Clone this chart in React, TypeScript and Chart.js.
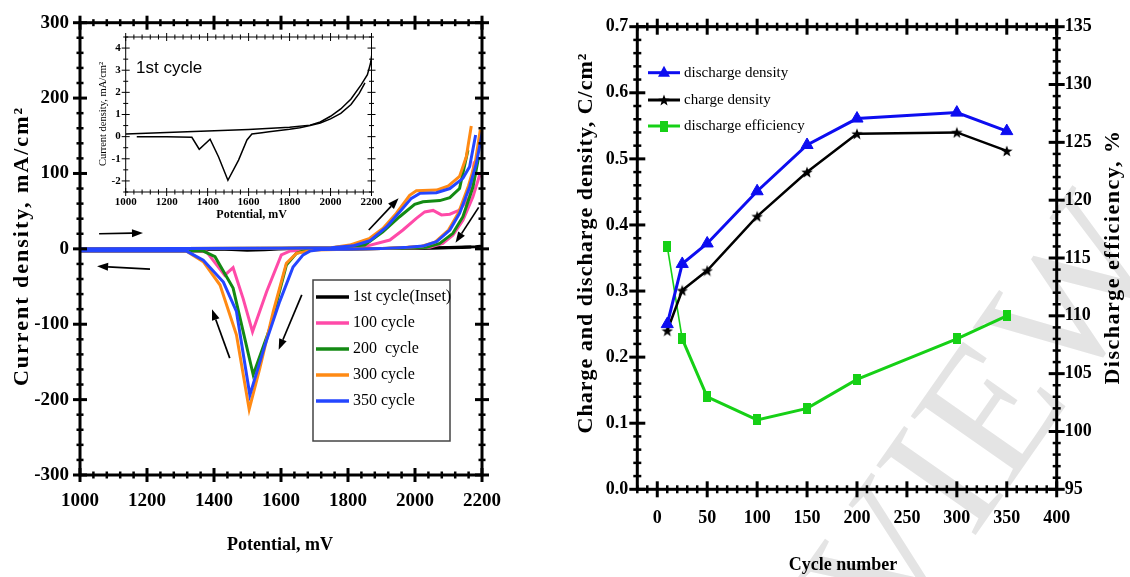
import { useEffect, useRef } from "react";
import { Chart, registerables } from "chart.js";

Chart.register(...registerables);

const SERIF = "'Liberation Serif', 'Times New Roman', Times, serif";
const SANS = "'Liberation Sans', Arial, Helvetica, sans-serif";

// ================= Left panel: cyclic voltammograms =================
const potentialTicks = [1000, 1200, 1400, 1600, 1800, 2000, 2200];
const currentTicks = [-300, -200, -100, 0, 100, 200, 300];
const cvLabels = ["1st cycle(Inset)", "100 cycle", "200  cycle", "300 cycle", "350 cycle"];
const cvColors = ["#000000", "#ff4aa8", "#138a13", "#ff8a14", "#2446ff"];

// 1st cycle (also plotted in the inset), mA/cm2
const cycle1FwdPotential = [1000, 1200, 1400, 1600, 1800, 1900, 1950, 2000, 2050, 2100, 2150, 2180, 2195, 2203];
const cycle1FwdCurrent = [0.12, 0.19, 0.25, 0.32, 0.42, 0.52, 0.66, 0.92, 1.25, 1.7, 2.35, 2.8, 3.3, 3.8];
const cycle1RevPotential = [2168, 2140, 2100, 2050, 2000, 1950, 1900, 1850, 1800, 1700, 1665, 1616, 1592, 1551, 1499, 1453, 1412, 1359, 1323, 1200, 1054];
const cycle1RevCurrent = [2.43, 1.95, 1.45, 1.05, 0.8, 0.62, 0.5, 0.4, 0.33, 0.22, 0.18, 0.12, -0.15, -1.06, -1.97, -0.91, -0.12, -0.57, -0.03, 0, 0];

// 100 cycle
const cycle100FwdPotential = [1000, 1300, 1600, 1750, 1850, 1925, 1964, 2004, 2029, 2054, 2079, 2104, 2133, 2163, 2177];
const cycle100FwdCurrent = [0, 0.3, 0.8, 1.5, 3, 11.7, 25, 40.5, 49, 51, 45, 46, 51.5, 69, 116];
const cycle100RevPotential = [2193, 2173, 2143, 2113, 2083, 2044, 2000, 1900, 1800, 1700, 1626, 1601, 1557, 1515, 1487, 1457, 1432, 1378, 1330, 1200, 1000];
const cycle100RevCurrent = [98, 69, 38, 18, 7.3, 2, 1, 0.3, -0.5, -1, -3, -8, -57, -110, -66, -25, -35, -4, -3, -3, -3];

// 200 cycle
const cycle200FwdPotential = [1000, 1300, 1600, 1750, 1850, 1904, 1954, 1999, 2024, 2074, 2104, 2133, 2158];
const cycle200FwdCurrent = [0, 0.3, 0.8, 1.5, 5, 22.7, 42.6, 59, 62.5, 64, 68, 80, 131];
const cycle200RevPotential = [2190, 2173, 2143, 2113, 2074, 2034, 1990, 1900, 1800, 1700, 1676, 1646, 1616, 1567, 1517, 1457, 1403, 1368, 1320, 1200, 1000];
const cycle200RevCurrent = [122, 82, 42.6, 20.6, 7.3, 2, 1, 0.3, -0.5, -1, -1.5, -6, -21.5, -105, -167, -52, -10.5, -3, -3, -3, -3];

// 300 cycle
const cycle300FwdPotential = [1000, 1300, 1600, 1750, 1805, 1865, 1904, 1944, 1984, 2004, 2064, 2098, 2133, 2153, 2168];
const cycle300FwdCurrent = [0, 0.3, 0.8, 1.5, 5, 14, 27, 47, 71, 77, 78, 83, 96, 122, 163];
const cycle300RevPotential = [2195, 2180, 2160, 2130, 2100, 2060, 2020, 1975, 1900, 1800, 1700, 1680, 1646, 1616, 1577, 1537, 1505, 1467, 1418, 1368, 1318, 1200, 1000];
const cycle300RevCurrent = [158, 115, 84, 48, 25, 9, 3.5, 2, 0.3, -0.5, -1.5, -3, -6, -19, -83, -158, -213, -114, -48, -17, -3, -3, -3];

// 350 cycle
const cycle350FwdPotential = [1000, 1300, 1600, 1750, 1815, 1865, 1915, 1954, 1989, 2014, 2064, 2104, 2143, 2163, 2181];
const cycle350FwdCurrent = [0, 0.3, 0.8, 1.5, 4, 10.7, 29, 49, 67, 73.6, 74.5, 80, 93.5, 109, 151];
const cycle350RevPotential = [2201, 2183, 2163, 2133, 2104, 2064, 2024, 1980, 1900, 1800, 1720, 1686, 1666, 1636, 1596, 1552, 1507, 1467, 1428, 1368, 1318, 1200, 1000];
const cycle350RevCurrent = [155, 113, 82, 47, 25, 9.4, 3.7, 2, 0.3, -0.5, -1, -3, -8, -24, -70, -128, -194, -83, -44, -15, -3, -3, -3];

// scan-direction arrows (data coordinates)
const arrowFromPotential = [1057, 1209, 1862, 2190, 1662, 1447];
const arrowFromCurrent = [20, -27, 25, 55, -61, -145];
const arrowToPotential = [1188, 1051, 1951, 2121, 1593, 1394];
const arrowToCurrent = [21, -23, 67, 8, -134, -80];

// inset
const insetCurrentTicks = [-2, -1, 0, 1, 2, 3, 4];

// ================= Right panel: charge / discharge =================
const cycleNumbers = [10, 25, 50, 100, 150, 200, 300, 350];
const dischargeDensity = [0.25, 0.341, 0.372, 0.451, 0.521, 0.561, 0.57, 0.542];
const chargeDensity = [0.24, 0.301, 0.331, 0.413, 0.48, 0.538, 0.54, 0.512];
const dischargeEfficiency = [116.0, 108.0, 103.0, 101.0, 102.0, 104.5, 108.0, 110.0];
const cycleTicks = [0, 50, 100, 150, 200, 250, 300, 350, 400];
const densityTicks = [0, 0.1, 0.2, 0.3, 0.4, 0.5, 0.6, 0.7];
const efficiencyTicks = [95, 100, 105, 110, 115, 120, 125, 130, 135];
const rightLegendLabels = ["discharge density", "charge density", "discharge efficiency"];
const rightColors = ["#0d0df0", "#000000", "#16d016"];

// ================= helpers =================
const pts = (xs: number[], ys: number[]) => xs.map((x, i) => ({ x, y: ys[i] }));

function lineDs(xs: number[], ys: number[], color: string, width = 3) {
  return {
    data: pts(xs, ys),
    showLine: true,
    borderColor: color,
    backgroundColor: color,
    borderWidth: width,
    pointRadius: 0,
    pointHoverRadius: 0,
    tension: 0,
    fill: false,
  };
}

function tickCfg(size: number, padding: number, fmt: (v: number) => string) {
  return {
    autoSkip: false,
    maxRotation: 0,
    minRotation: 0,
    padding,
    color: "#000",
    font: { family: SERIF, size, weight: "bold" as const },
    callback: (v: any) => fmt(Number(v)),
  };
}

function axis(opts: {
  pos: string; min: number; max: number; ticks: number[]; size: number; pad: number;
  fmt?: (v: number) => string; fit: number; horizontal: boolean;
}) {
  return {
    type: "linear" as const,
    position: opts.pos,
    min: opts.min,
    max: opts.max,
    grid: { display: false, drawTicks: false },
    border: { display: false },
    ticks: tickCfg(opts.size, opts.pad, opts.fmt || ((v) => String(v))),
    afterBuildTicks: (s: any) => {
      s.ticks = opts.ticks.map((v) => ({ value: v }));
    },
    afterFit: (s: any) => {
      if (opts.horizontal) s.height = opts.fit;
      else s.width = opts.fit;
    },
  };
}

type Side = { scale: string; edge: "bottom" | "top" | "left" | "right"; minor: number; major: number };

function makeFrame(sides: Side[], border: number, majorLen: number, minorLen: number, majorW: number, minorW: number) {
  return {
    id: "frame",
    afterDatasetsDraw(chart: any) {
      const { ctx, chartArea: a } = chart;
      ctx.save();
      ctx.strokeStyle = "#000";
      ctx.lineCap = "butt";
      for (const s of sides) {
        const sc = chart.scales[s.scale];
        const n = Math.round((sc.max - sc.min) / s.minor);
        for (let i = 0; i <= n; i++) {
          const v = sc.min + i * s.minor;
          const r = v / s.major;
          const isMajor = Math.abs(r - Math.round(r)) < 1e-6;
          const L = isMajor ? majorLen : minorLen;
          ctx.lineWidth = isMajor ? majorW : minorW;
          const p = sc.getPixelForValue(v);
          ctx.beginPath();
          if (s.edge === "bottom" || s.edge === "top") {
            const y0 = s.edge === "bottom" ? a.bottom : a.top;
            ctx.moveTo(p, y0 - L);
            ctx.lineTo(p, y0 + L);
          } else {
            const x0 = s.edge === "left" ? a.left : a.right;
            ctx.moveTo(x0 - L, p);
            ctx.lineTo(x0 + L, p);
          }
          ctx.stroke();
        }
      }
      ctx.lineWidth = border;
      ctx.strokeRect(a.left, a.top, a.right - a.left, a.bottom - a.top);
      ctx.restore();
    },
  };
}

type TextItem = { text: string; x: number; y: number; font: string; rot?: number; align?: CanvasTextAlign; spacing?: string };

function makeTexts(items: TextItem[]) {
  return {
    id: "texts",
    afterDraw(chart: any) {
      const ctx = chart.ctx as CanvasRenderingContext2D;
      for (const t of items) {
        ctx.save();
        ctx.translate(t.x, t.y);
        if (t.rot) ctx.rotate(t.rot);
        ctx.font = t.font;
        (ctx as any).letterSpacing = t.spacing || "0px";
        ctx.fillStyle = "#000";
        ctx.textAlign = t.align || "center";
        ctx.textBaseline = "middle";
        ctx.fillText(t.text, 0, 0);
        ctx.restore();
      }
    },
  };
}

const arrowPlugin = {
  id: "arrows",
  afterDatasetsDraw(chart: any) {
    const { ctx, scales } = chart;
    const sx = scales.x, sy = scales.y;
    ctx.save();
    ctx.strokeStyle = "#000";
    ctx.fillStyle = "#000";
    ctx.lineWidth = 1.7;
    for (let i = 0; i < arrowFromPotential.length; i++) {
      const x1 = sx.getPixelForValue(arrowFromPotential[i]);
      const y1 = sy.getPixelForValue(arrowFromCurrent[i]);
      const x2 = sx.getPixelForValue(arrowToPotential[i]);
      const y2 = sy.getPixelForValue(arrowToCurrent[i]);
      const ang = Math.atan2(y2 - y1, x2 - x1);
      const hl = 11, hw = 4;
      const bx = x2 - hl * Math.cos(ang), by = y2 - hl * Math.sin(ang);
      ctx.beginPath();
      ctx.moveTo(x1, y1);
      ctx.lineTo(bx, by);
      ctx.stroke();
      ctx.beginPath();
      ctx.moveTo(x2, y2);
      ctx.lineTo(bx + hw * Math.sin(ang), by - hw * Math.cos(ang));
      ctx.lineTo(bx - hw * Math.sin(ang), by + hw * Math.cos(ang));
      ctx.closePath();
      ctx.fill();
    }
    ctx.restore();
  },
};

const cvLegendPlugin = {
  id: "cvLegend",
  afterDraw(chart: any) {
    const ctx = chart.ctx as CanvasRenderingContext2D;
    ctx.save();
    ctx.fillStyle = "#fff";
    ctx.fillRect(313, 280, 137, 161);
    ctx.strokeStyle = "#444";
    ctx.lineWidth = 1.5;
    ctx.strokeRect(313, 280, 137, 161);
    ctx.font = `16px ${SERIF}`;
    ctx.textBaseline = "middle";
    ctx.textAlign = "left";
    cvLabels.forEach((lab, i) => {
      const y = 297 + i * 26;
      ctx.strokeStyle = cvColors[i];
      ctx.lineWidth = 3.5;
      ctx.beginPath();
      ctx.moveTo(316, y);
      ctx.lineTo(349, y);
      ctx.stroke();
      ctx.fillStyle = "#000";
      ctx.fillText(lab, 353, y);
    });
    ctx.restore();
  },
};

function starImage(size: number, color: string) {
  const c = document.createElement("canvas");
  c.width = size;
  c.height = size;
  const g = c.getContext("2d")!;
  g.fillStyle = color;
  g.beginPath();
  for (let i = 0; i < 10; i++) {
    const r = i % 2 === 0 ? size / 2 : size / 4.8;
    const a = -Math.PI / 2 + (i * Math.PI) / 5;
    g.lineTo(size / 2 + r * Math.cos(a), size / 2 + 0.6 + r * Math.sin(a));
  }
  g.closePath();
  g.fill();
  return c;
}

function rectImage(w: number, h: number, color: string) {
  const c = document.createElement("canvas");
  c.width = w;
  c.height = h;
  const g = c.getContext("2d")!;
  g.fillStyle = color;
  g.fillRect(0, 0, w, h);
  return c;
}

function makeRightLegend(star: HTMLCanvasElement, rect: HTMLCanvasElement) {
  return {
    id: "rightLegend",
    afterDraw(chart: any) {
      const ctx = chart.ctx as CanvasRenderingContext2D;
      ctx.save();
      ctx.font = `15px ${SERIF}`;
      ctx.textBaseline = "middle";
      ctx.textAlign = "left";
      const rows = [72.7, 100, 126];
      rightLegendLabels.forEach((lab, i) => {
        const y = rows[i];
        ctx.strokeStyle = rightColors[i];
        ctx.lineWidth = 3;
        ctx.beginPath();
        ctx.moveTo(88, y);
        ctx.lineTo(120, y);
        ctx.stroke();
        const cx = 104;
        if (i === 0) {
          ctx.fillStyle = rightColors[0];
          ctx.beginPath();
          ctx.moveTo(cx, y - 7);
          ctx.lineTo(cx + 6, y + 4);
          ctx.lineTo(cx - 6, y + 4);
          ctx.closePath();
          ctx.fill();
        } else if (i === 1) {
          ctx.drawImage(star, cx - star.width / 2, y - star.height / 2);
        } else {
          ctx.drawImage(rect, cx - rect.width / 2, y - rect.height / 2);
        }
        ctx.fillStyle = "#000";
        ctx.fillText(lab, 124, y);
      });
      ctx.restore();
    },
  };
}

const watermarkPlugin = {
  id: "watermark",
  beforeDraw(chart: any) {
    const ctx = chart.ctx as CanvasRenderingContext2D;
    ctx.save();
    ctx.font = `185px ${SERIF}`;
    ctx.fillStyle = "#e4e4e4";
    ctx.translate(335, 650);
    ctx.rotate((-55 * Math.PI) / 180);
    ctx.textAlign = "left";
    ctx.textBaseline = "alphabetic";
    const pre = ctx.measureText("PRE").width;
    ctx.fillText("PREVIEW", -pre, 0);
    ctx.restore();
  },
};

const common = {
  responsive: false,
  animation: false as const,
  devicePixelRatio: 1,
  events: [] as any[],
  plugins: { legend: { display: false }, tooltip: { enabled: false } },
};

export default function App() {
  const leftRef = useRef<HTMLCanvasElement>(null);
  const insetRef = useRef<HTMLCanvasElement>(null);
  const rightRef = useRef<HTMLCanvasElement>(null);

  useEffect(() => {
    const charts: Chart[] = [];

    // ---------- left main chart ----------
    charts.push(
      new Chart(leftRef.current!, {
        type: "scatter",
        data: {
          datasets: [
            lineDs(cycle350FwdPotential, cycle350FwdCurrent, cvColors[4]),
            lineDs(cycle350RevPotential, cycle350RevCurrent, cvColors[4]),
            lineDs(cycle300FwdPotential, cycle300FwdCurrent, cvColors[3]),
            lineDs(cycle300RevPotential, cycle300RevCurrent, cvColors[3]),
            lineDs(cycle200FwdPotential, cycle200FwdCurrent, cvColors[2]),
            lineDs(cycle200RevPotential, cycle200RevCurrent, cvColors[2]),
            lineDs(cycle100FwdPotential, cycle100FwdCurrent, cvColors[1]),
            lineDs(cycle100RevPotential, cycle100RevCurrent, cvColors[1]),
            lineDs(cycle1FwdPotential, cycle1FwdCurrent, cvColors[0]),
            lineDs(cycle1RevPotential, cycle1RevCurrent, cvColors[0]),
          ] as any,
        },
        options: {
          ...common,
          layout: { padding: { top: 22.7, right: 58, left: 0, bottom: 0 } },
          scales: {
            x: axis({ pos: "bottom", min: 1000, max: 2200, ticks: potentialTicks, size: 19, pad: 15, fit: 102, horizontal: true }),
            y: axis({ pos: "left", min: -300, max: 300, ticks: currentTicks, size: 19, pad: 11, fit: 80, horizontal: false }),
          } as any,
        } as any,
        plugins: [
          makeFrame(
            [
              { scale: "x", edge: "bottom", minor: 40, major: 200 },
              { scale: "x", edge: "top", minor: 40, major: 200 },
              { scale: "y", edge: "left", minor: 20, major: 100 },
              { scale: "y", edge: "right", minor: 20, major: 100 },
            ],
            3, 7, 3.5, 3, 2.5
          ),
          arrowPlugin,
          cvLegendPlugin,
          makeTexts([
            { text: "Current density, mA/cm\u00B2", x: 22, y: 246, font: `bold 22px ${SERIF}`, rot: -Math.PI / 2, spacing: "2px" },
            { text: "Potential, mV", x: 280, y: 545, font: `bold 18px ${SERIF}` },
          ]),
        ],
      } as any)
    );

    // ---------- inset ----------
    charts.push(
      new Chart(insetRef.current!, {
        type: "scatter",
        data: {
          datasets: [
            lineDs(cycle1FwdPotential, cycle1FwdCurrent, "#000", 1.5),
            lineDs(cycle1RevPotential, cycle1RevCurrent, "#000", 1.5),
          ] as any,
        },
        options: {
          ...common,
          layout: { padding: { top: 12, right: 23.5, left: 0, bottom: 0 } },
          scales: {
            x: axis({ pos: "bottom", min: 1000, max: 2200, ticks: potentialTicks, size: 11, pad: 4, fit: 38, horizontal: true }),
            y: axis({ pos: "left", min: -2.5, max: 4.5, ticks: insetCurrentTicks, size: 11, pad: 5, fit: 40.7, horizontal: false }),
          } as any,
        } as any,
        plugins: [
          makeFrame(
            [
              { scale: "x", edge: "bottom", minor: 40, major: 200 },
              { scale: "x", edge: "top", minor: 40, major: 200 },
              { scale: "y", edge: "left", minor: 0.5, major: 1 },
              { scale: "y", edge: "right", minor: 0.5, major: 1 },
            ],
            1, 4, 2.5, 1, 1
          ),
          makeTexts([
            { text: "1st cycle", x: 51, y: 43, font: `17px ${SANS}`, align: "left" },
            { text: "Current density, mA/cm\u00B2", x: 18, y: 89, font: `10.5px ${SERIF}`, rot: -Math.PI / 2 },
            { text: "Potential, mV", x: 166.7, y: 190, font: `bold 12px ${SERIF}` },
          ]),
        ],
      } as any)
    );

    // ---------- right chart ----------
    const star = starImage(12, rightColors[1]);
    const rect = rectImage(8, 11, rightColors[2]);
    charts.push(
      new Chart(rightRef.current!, {
        type: "scatter",
        data: {
          datasets: [
            {
              data: pts(cycleNumbers, dischargeDensity),
              showLine: true,
              borderColor: rightColors[0],
              backgroundColor: rightColors[0],
              borderWidth: 3,
              pointStyle: "triangle",
              pointRadius: 7,
              pointBorderWidth: 1,
              pointBorderColor: rightColors[0],
              pointBackgroundColor: rightColors[0],
              yAxisID: "y",
            },
            {
              data: pts(cycleNumbers, chargeDensity),
              showLine: true,
              borderColor: rightColors[1],
              backgroundColor: rightColors[1],
              borderWidth: 2.5,
              pointStyle: star,
              pointRadius: 5,
              yAxisID: "y",
            },
            {
              data: pts(cycleNumbers, dischargeEfficiency),
              showLine: true,
              borderColor: rightColors[2],
              backgroundColor: rightColors[2],
              borderWidth: 3,
              segment: { borderWidth: (c: any) => (c.p0DataIndex === 0 ? 1.6 : 3) },
              pointStyle: rect,
              pointRadius: 5,
              yAxisID: "y2",
            },
          ] as any,
        },
        options: {
          ...common,
          layout: { padding: { top: 26.7, right: 0, left: 0, bottom: 0 } },
          scales: {
            x: axis({ pos: "bottom", min: -20, max: 400, ticks: cycleTicks, size: 18, pad: 18, fit: 87.7, horizontal: true }),
            y: axis({ pos: "left", min: 0, max: 0.7, ticks: densityTicks, size: 18, pad: 9, fit: 77.3, horizontal: false, fmt: (v) => v.toFixed(1) }),
            y2: axis({ pos: "right", min: 95, max: 135, ticks: efficiencyTicks, size: 18, pad: 8, fit: 73.3, horizontal: false }),
          } as any,
        } as any,
        plugins: [
          watermarkPlugin,
          makeFrame(
            [
              { scale: "x", edge: "bottom", minor: 10, major: 50 },
              { scale: "x", edge: "top", minor: 10, major: 50 },
              { scale: "y", edge: "left", minor: 0.02, major: 0.1 },
              { scale: "y2", edge: "right", minor: 1, major: 5 },
            ],
            3, 8, 4, 3, 2.5
          ),
          makeRightLegend(star, rect),
          makeTexts([
            { text: "Charge and discharge density, C/cm\u00B2", x: 26, y: 243, font: `bold 22px ${SERIF}`, rot: -Math.PI / 2, spacing: "1px" },
            { text: "Discharge efficiency, %", x: 553, y: 257, font: `bold 22px ${SERIF}`, rot: -Math.PI / 2, spacing: "1.5px" },
            { text: "Cycle number", x: 283, y: 565, font: `bold 18px ${SERIF}` },
          ]),
        ],
      } as any)
    );

    return () => charts.forEach((c) => c.destroy());
  }, []);

  return (
    <div style={{ position: "absolute", left: 0, top: 0, width: 1130, height: 577, background: "#fff", overflow: "hidden" }}>
      <canvas ref={leftRef} width={540} height={577} style={{ position: "absolute", left: 0, top: 0, width: 540, height: 577 }} />
      <canvas ref={rightRef} width={570} height={577} style={{ position: "absolute", left: 560, top: 0, width: 570, height: 577 }} />
      <canvas ref={insetRef} width={310} height={205} style={{ position: "absolute", left: 85, top: 25, width: 310, height: 205 }} />
    </div>
  );
}
